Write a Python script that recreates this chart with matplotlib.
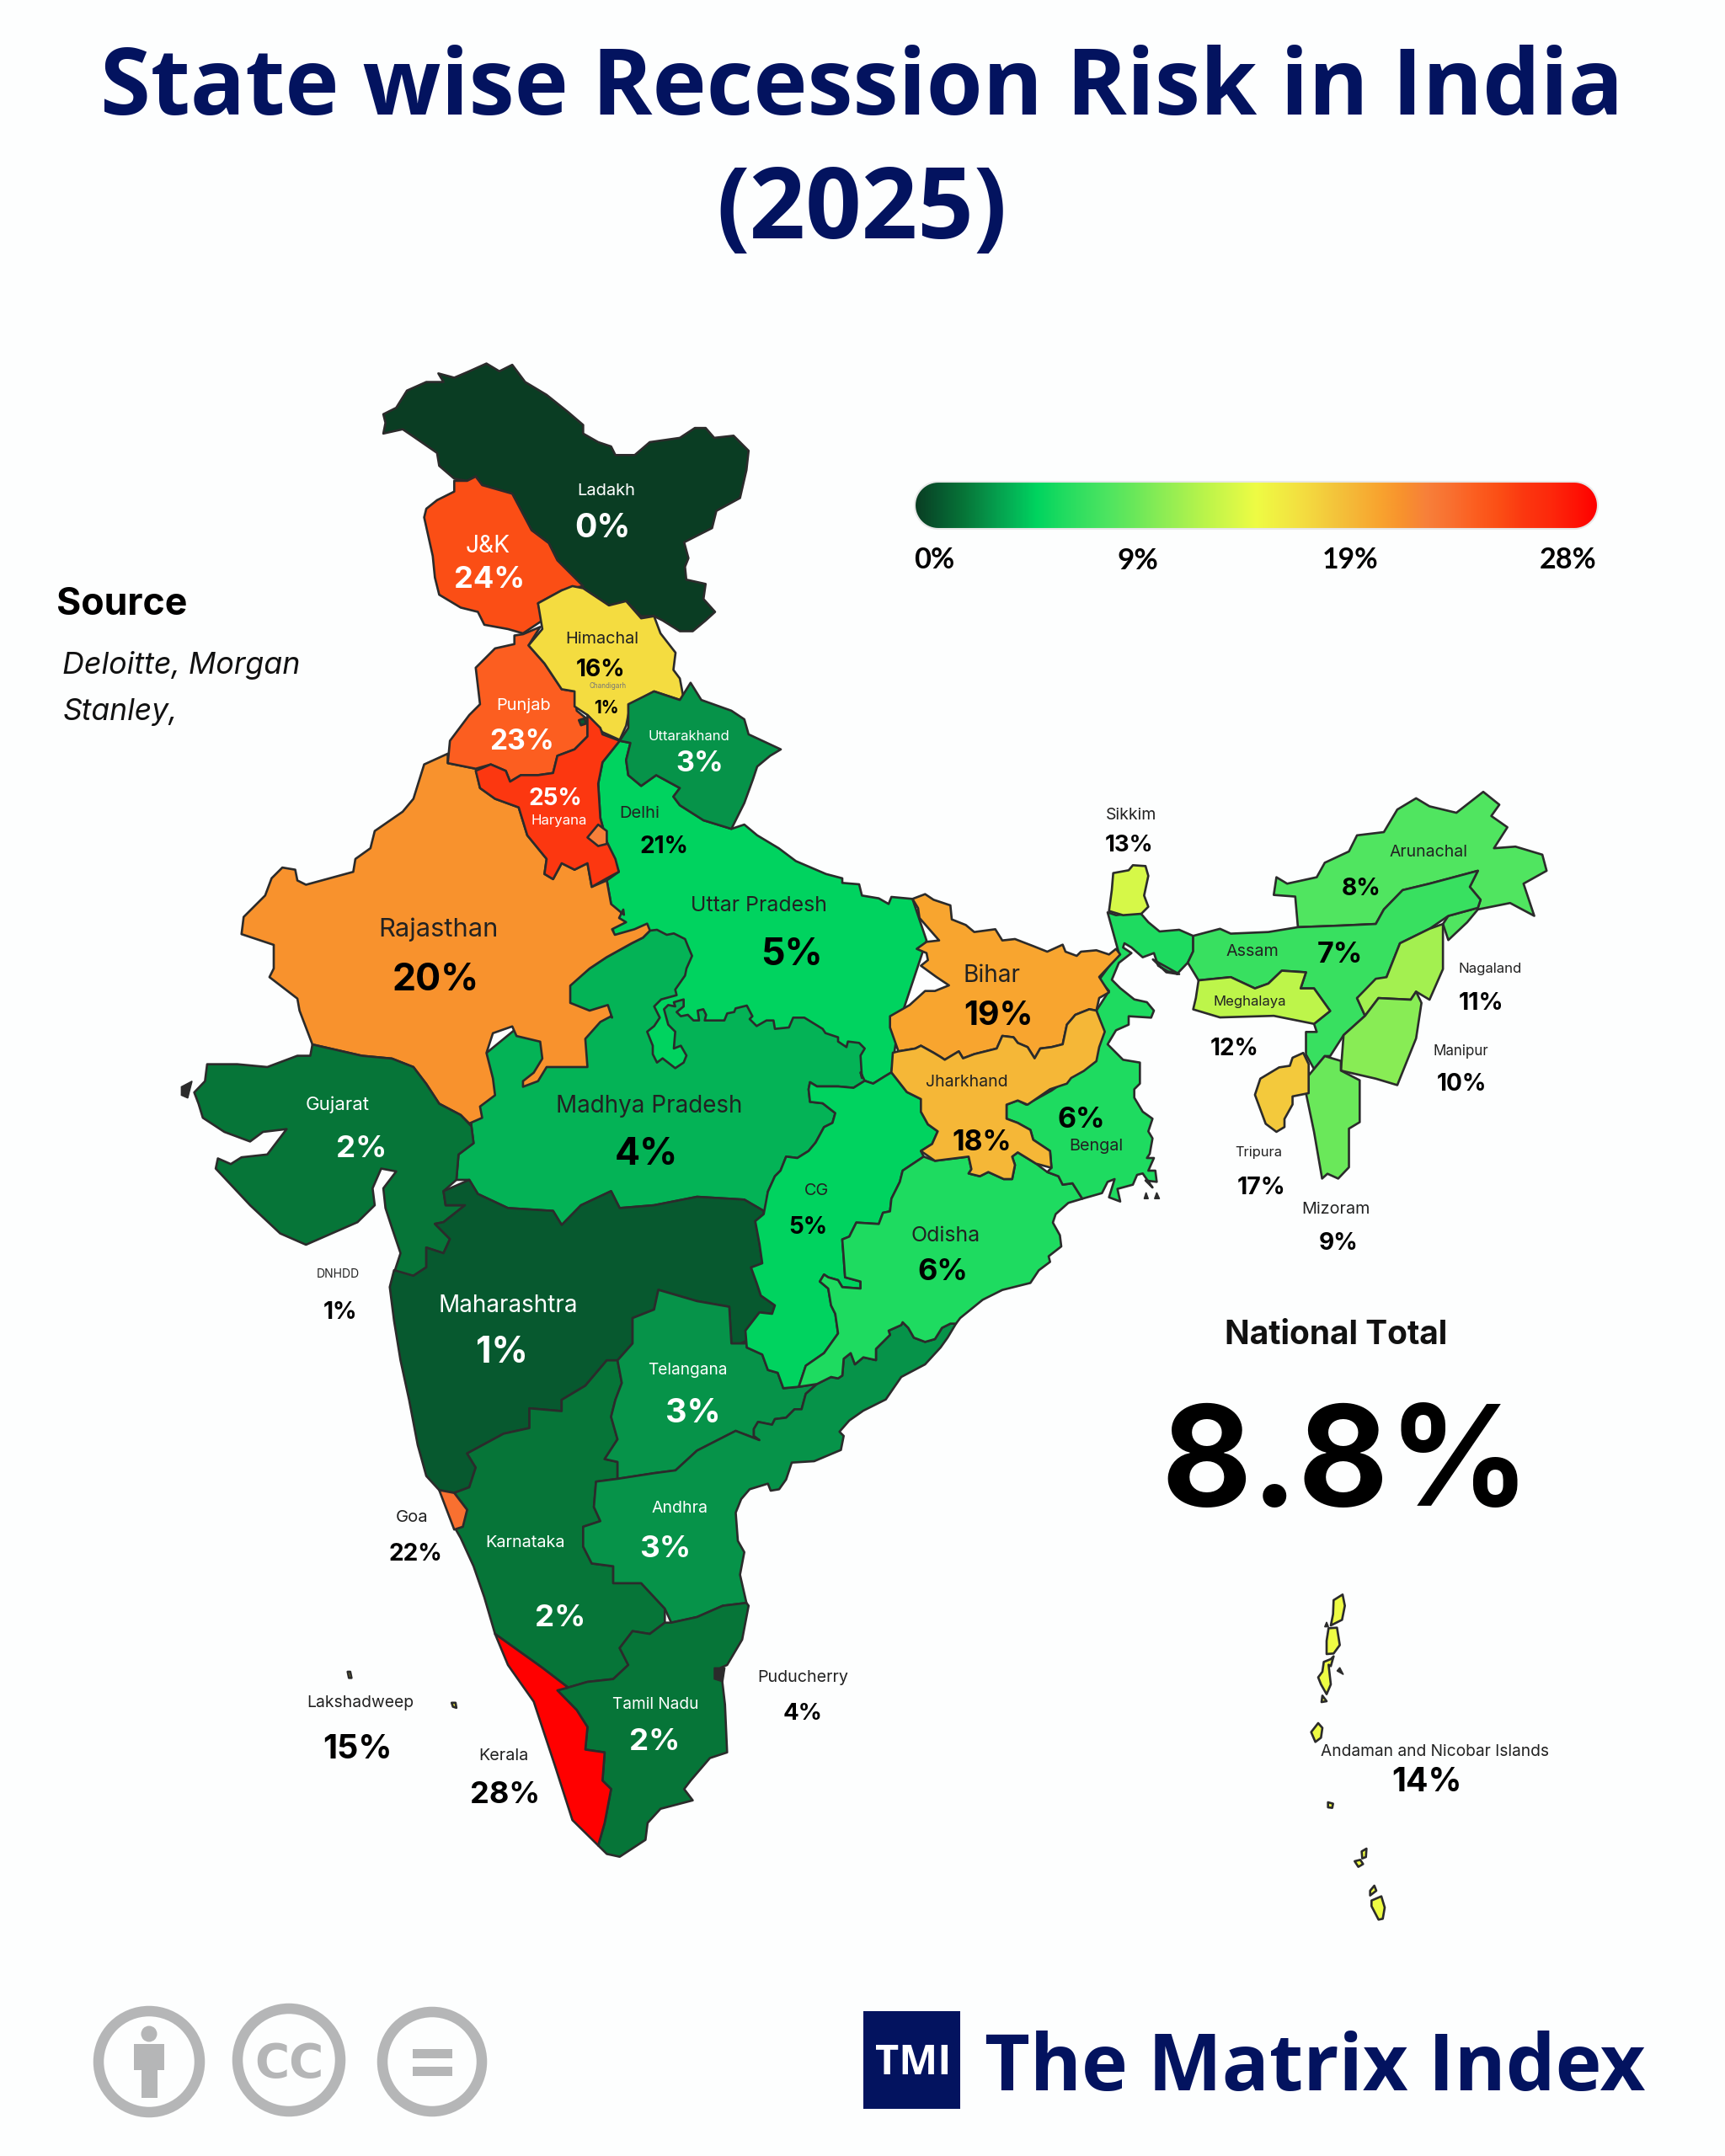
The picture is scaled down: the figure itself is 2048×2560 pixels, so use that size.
import numpy as np
import matplotlib
matplotlib.use("Agg")
import matplotlib.pyplot as plt
import matplotlib.patheffects as pe
from matplotlib.colors import LinearSegmentedColormap
from matplotlib.patches import Polygon, Circle, Rectangle
from matplotlib.font_manager import FontProperties, findfont
from matplotlib.textpath import TextPath

# ---------- data ----------
TITLE_LINES = ["State wise Recession Risk in India", "(2025)"]
SOURCE_LINES = ["Deloitte, Morgan", "Stanley,"]
NATIONAL_TOTAL = 8.8
LEGEND_TICKS = [0, 9, 19, 28]

STATES = ["Ladakh", "J&K", "Himachal", "Chandigarh", "Punjab", "Uttarakhand", "Haryana", "Delhi",
          "Uttar Pradesh", "Rajasthan", "Gujarat", "Madhya Pradesh", "CG", "DNHDD", "Maharashtra",
          "Telangana", "Goa", "Andhra", "Karnataka", "Tamil Nadu", "Puducherry", "Lakshadweep",
          "Kerala", "Sikkim", "Bihar", "Jharkhand", "Bengal", "Odisha", "Arunachal", "Assam",
          "Meghalaya", "Nagaland", "Manipur", "Tripura", "Mizoram", "Andaman and Nicobar Islands"]
RISK = [0, 24, 16, 1, 23, 3, 25, 21,
        5, 20, 2, 4, 5, 1, 1,
        3, 22, 3, 2, 2, 4, 15,
        28, 13, 19, 18, 6, 6, 8, 7,
        12, 11, 10, 17, 9, 14]
VALUE = dict(zip(STATES, RISK))

SCALE_VALUES = list(range(0, 29))
SCALE_COLORS = ["#0a3d23", "#07592f", "#067538", "#069449", "#04b356", "#00d45f", "#1edb60",
                "#38e060", "#50e560", "#6ae85a", "#88ec55", "#a3f050", "#bdf54a", "#d6f848",
                "#eefc44", "#f1ec42", "#f4dc40", "#f3c93c", "#f5b737", "#f8a52f", "#f8922d",
                "#f7803a", "#f97030", "#fc5e20", "#fb4e15", "#fc3710", "#fd2a0c", "#fe1606", "#ff0000"]

FRAMES = {"a": (200, 400, 1.96, 1.96), "b": (200, 1200, 1.96, 1.493), "c": (900, 900, 1.568, 2.613),
          "d": (880, 1260, 3, 3), "e": (1000, 950, 3, 3), "f": (700, 1080, 3, 3), "g": (1500, 1860, 3, 3)}

SHAPES = [
 ("Uttar Pradesh", [("a", [(1050,940),(1075,945),(1065,985),(1070,1020),(1100,1045),(1135,1020),(1190,1050),(1175,1070),(1190,1090),(1245,1125),(1310,1145),(1340,1135),(1370,1160),(1420,1190),(1460,1220),(1530,1250),(1568,1260)]),
   ("e", [(0,295),(60,300),(70,340),(130,350),(165,370),(175,345),(250,352),(300,500),(200,800),(175,970),(140,1005),(100,1010),(70,995)]),
   ("d", [(440,70),(470,80),(510,55),(535,40),(590,110),(500,200)]),
   ("f", [(500,620),(180,620),(100,200)]),
   ("a", [(1035,1385),(1030,1320),(1020,1265),(1048,1245),(1020,1175),(1005,1120),(1000,1040),(1010,990)])]),
 ("Madhya Pradesh", [("f", [(0,210),(60,170),(150,120),(190,100),(215,75),(240,72),(275,90),(300,85),(340,105),(350,130),(365,165),(345,210),(340,235),(305,285),(310,305),(255,320),(230,345),(250,385),(230,415),(205,435),(225,485),(225,515),(240,545),(260,530),(305,565),(335,545),(345,520),(325,485),(300,495),(305,435),(280,410),(265,355),(280,340),(305,345),(300,330),(335,320),(335,345),(310,365),(325,380),(350,375),(370,395),(390,395),(385,360),(405,355),(415,375),(410,395),(435,395),(480,395),(490,370),(515,365),(520,352),(560,342),(580,380),(570,390),(595,415),(630,395),(655,395),(660,425),(710,420),(725,385),(745,385),(765,385),(830,425),(840,440),(885,455),(885,470),(915,490),(920,470),(960,475),(980,495),(965,520),(970,600)]),
   ("d", [(425,40),(440,70),(400,95),(345,90),(270,90),(245,75),(240,100),(245,145),(290,150),(335,185),(325,220),(295,235),(265,290),(240,320),(200,345),(160,340),(140,390),(120,410),(95,465),(85,545)]),
   ("b", [(1385,355),(1340,335),(1230,330),(1130,345),(1050,350),(1030,320),(960,345),(915,380),(895,355),(790,350),(720,325),(700,300),(670,300),(675,255),(710,235),(705,205),(700,100)])]),
 ("Rajasthan", [("a", [(595,995),(650,970),(650,992),(715,1005),(725,1050),(760,1075),(815,1095),(835,1160),(880,1215),(875,1250),(895,1262),(915,1225),(945,1240),(975,1225),(985,1280),(1020,1265),(1030,1320),(1060,1345)]),
   ("f", [(120,0),(105,30),(130,45),(80,70),(90,90),(160,70),(205,50),(215,75),(190,100),(150,120),(60,170),(0,210)]),
   ("a", [(935,1510),(935,1550)]),
   ("f", [(0,360),(65,340),(80,385)]),
   ("b", [(1030,10),(1005,20),(970,50),(975,100),(880,100),(860,125),(825,135),(825,125),(850,110),(870,85),(865,55),(810,45),(800,28),(755,40),(740,75),(755,120),(760,150),(725,170),(730,190),(700,200),(680,185),(630,165),(600,130),(570,100),(520,85),(450,80),(335,60),(305,0)]),
   ("a", [(300,1540),(235,1490),(245,1470),(245,1415),(170,1390),(175,1350),(225,1300),(240,1260),(265,1235),(295,1240),(300,1265),(320,1275),(430,1245),(435,1215),(470,1190),(480,1150),(545,1105),(570,1075)])]),
 ("Gujarat", [("b", [(335,60),(450,80),(520,85),(570,100),(600,130),(630,165),(680,185),(705,205),(710,235),(675,255),(670,300),(640,320),(645,345),(690,345),(640,375),(620,378),(655,405),(640,430),(600,420),(600,455),(570,470),(525,465),(540,430),(520,385),(505,350),(500,315),(530,285),(495,280),(475,315),(480,345),(440,375),(320,415),(260,395),(190,345),(110,280),(115,262),(145,272),(170,260),(230,255),(275,210),(220,215),(190,232),(130,215),(80,190),(70,165),(60,145),(85,125),(90,95),(160,95),(230,100),(300,80),(330,80)])]),
 ("Maharashtra", [("b", [(640,320),(700,300),(720,325),(790,350),(895,355),(915,380),(960,345),(1030,320),(1050,350),(1130,345),(1230,330),(1340,335),(1385,355)]),
   ("d", [(80,545),(50,570),(65,650),(75,720),(35,735),(55,790),(70,835),(120,870),(110,900),(65,895),(15,960),(30,990),(0,1005)]),
   ("b", [(1340,590),(1310,590),(1305,525),(1230,515),(1140,495),(1130,530),(1080,545),(1080,590),(1045,620),(1020,620),(970,665),(915,690),(915,710),(840,705),(840,740),(780,750),(695,785),(715,810),(700,845),(665,855),(630,850),(600,825),(580,770),(560,690),(540,620),(525,550),(515,490),(525,460),(570,470),(600,455),(600,420),(640,430),(655,405),(620,378),(640,375),(690,345),(645,345)])]),
 ("Karnataka", [("b", [(695,785),(780,750),(840,740),(840,705),(915,710),(915,690),(970,665),(1020,620),(1045,620),(1055,660),(1040,690),(1030,720),(1045,760),(1015,795),(1045,800),(1045,830),(995,835),(990,880),(1005,905),(965,915),(965,950),(985,980),(1035,985),(1035,1015),(1100,1015),(1155,1060),(1155,1085),(1120,1105),(1080,1100),(1050,1130),(1070,1160),(1035,1185),(975,1190),(930,1200),(870,1165),(760,1105),(735,1040),(710,985),(680,935),(665,915),(695,885),(665,855),(700,845),(715,810)])]),
 ("Telangana", [("b", [(1140,495),(1230,515),(1305,525),(1310,590),(1345,590)]),
   ("d", [(20,1020),(75,1045),(95,1100),(130,1110),(150,1165),(205,1160),(270,1150),(230,1185),(215,1240),(190,1240),(160,1270),(120,1275),(110,1295),(60,1285),(45,1310),(45,1335),(65,1350),(20,1332),(0,1325)]),
   ("b", [(1320,745),(1230,780),(1180,815),(1130,820),(1045,830),(1045,800),(1015,795),(1045,760),(1030,720),(1040,690),(1055,660),(1045,620),(1080,590),(1080,545),(1130,530)])]),
 ("Andhra", [("d", [(270,1150),(320,1125),(345,1130),(360,1120),(365,1060),(390,1040),(405,1080),(435,1055),(480,1065),(480,1025),(530,975),(525,960),(570,940),(575,930),(595,950),(615,985),(655,1000),(690,990),(715,950),(745,935),(765,935),(735,985),(710,1020),(655,1080),(570,1125),(515,1205),(435,1245),(385,1280),(350,1320),(365,1335),(355,1385),(260,1425),(180,1430),(160,1490),(135,1525),(105,1530),(95,1505),(30,1525),(0,1560)]),
   ("b", [(1320,890),(1325,940),(1340,960),(1330,1000),(1345,1050),(1290,1055),(1230,1075),(1170,1085),(1155,1060),(1100,1015),(1035,1015),(1035,985),(985,980),(965,950),(965,915),(1005,905),(990,880),(995,835),(1045,830),(1130,820),(1180,815),(1230,780),(1320,745)]),
   ("d", [(65,1350),(45,1335),(45,1310),(60,1285),(110,1295),(120,1275),(160,1270),(190,1240),(215,1240),(230,1185)])]),
 ("Tamil Nadu", [("b", [(1345,1050),(1350,1055),(1335,1115),(1300,1160),(1285,1165),(1295,1230),(1300,1315),(1260,1325),(1215,1365),(1200,1380),(1220,1400),(1145,1415),(1115,1440),(1110,1470),(1050,1500),(1020,1495),(1000,1480),(1015,1440),(1030,1380),(1010,1365),(1015,1315),(970,1310),(975,1270),(950,1240),(905,1205),(930,1200),(975,1190),(1035,1185),(1070,1160),(1050,1130),(1080,1100),(1120,1105),(1155,1085),(1170,1085),(1230,1075),(1290,1055)])]),
 ("Kerala", [("b", [(760,1105),(870,1165),(930,1200),(905,1205),(950,1240),(975,1270),(970,1310),(1015,1315),(1010,1365),(1030,1380),(1015,1440),(1000,1480),(940,1435),(900,1340),(850,1225),(790,1160)])]),
 ("Goa", [("b", [(630,850),(665,855),(695,885),(685,915),(665,920),(650,890)])]),
 ("Lakshadweep", [("b", [(417,1172),(423,1172),(426,1183),(420,1183)])]),
 ("Lakshadweep", [("b", [(659,1227),(668,1227),(670,1236),(662,1234)])]),
 ("CG", [("d", [(400,95),(440,70),(470,80),(510,55),(535,40),(590,110),(640,135),(640,180),(665,225),(700,250),(680,295),(640,320),(650,340),(575,390),(565,430),(535,490),(530,535),(505,540),(490,580),(410,575),(385,625),(360,635),(365,700),(370,770),(425,785),(425,810),(360,805),(345,780),(310,770),(295,760),(280,785),(310,810),(320,870),(335,900),(345,970),(295,1040),(230,1085),(205,1160),(150,1165),(130,1110),(95,1100),(75,1045),(20,1020),(15,960),(65,895),(110,900),(120,870),(70,835),(55,790),(35,735),(75,720),(65,650),(50,570),(80,545),(95,465),(120,410),(140,390),(160,340),(200,345),(240,320),(265,290),(295,235),(325,220),(335,185),(290,150),(245,145),(240,100),(245,75),(270,90),(345,90)])]),
 ("Odisha", [("d", [(650,340),(690,355),(810,340),(820,385),(810,400),(850,410),(880,395),(935,420),(965,420),(975,370),(965,340),(985,325),(1050,365),(1090,395),(1130,410),(1145,440),(1180,435),(1215,490),(1165,505),(1120,545),(1110,575),(1135,620),(1140,660),(1095,695),(1100,715),(1060,745),(1030,790),(930,815),(860,850),(780,915),(765,935),(745,935),(715,950),(690,990),(655,1000),(615,985),(595,950),(575,930),(570,940),(525,960),(530,975),(480,1025),(480,1065),(435,1055),(405,1080),(390,1040),(365,1060),(360,1120),(345,1130),(320,1125),(270,1150),(205,1160),(230,1085),(295,1040),(345,970),(335,900),(320,870),(310,810),(280,785),(295,760),(310,770),(345,780),(360,805),(425,810),(425,785),(370,770),(365,700),(360,635),(385,625),(410,575),(490,580),(505,540),(530,535),(535,490),(565,430),(575,390)])]),
 ("Bengal", [("e", [(945,400),(975,410),(1060,400),(1090,435),(1130,468),(1200,462)]),
   ("c", [(810,552),(810,600),(800,635),(780,670),(760,665),(735,625)]),
   ("e", [(1200,620),(1160,610),(1125,590),(1110,545),(1070,560),(1030,525),(1005,510),(1000,525),(1030,545),(985,580),(960,640),(990,670),(1040,710),(1085,720),(1110,750),(1100,775),(1020,770),(1020,800),(975,820),(945,870),(1000,925),(1060,935),(1060,1010),(1040,1030),(1040,1060),(1070,1110),(1105,1135)]),
   ("d", [(1450,250),(1465,275),(1455,330),(1445,345),(1470,345),(1450,390),(1475,390),(1480,430),(1440,425),(1465,450),(1430,400),(1410,405),(1395,440),(1340,455),(1350,500),(1310,485),(1330,420),(1305,430),(1285,470),(1215,490),(1180,435),(1145,440),(1130,410),(1090,395),(1105,380),(1100,320),(1040,280),(1030,245),(985,220),(945,205),(945,155),(985,140),(1015,155),(1105,105),(1170,60),(1250,10)]),
   ("e", [(930,820),(905,750),(950,680),(915,640),(985,545)])]),
 ("Bihar", [("e", [(250,352),(295,335),(325,355),(385,375),(390,425),(440,445),(470,470),(545,460),(570,500),(615,495),(680,520),(730,540),(785,515),(795,540),(835,555),(850,540),(905,535),(950,550),(975,530),(990,550),(915,630),(950,685),(915,705),(905,750),(880,745),(830,765),(800,800),(785,870),(745,880),(705,885),(685,920),(660,880),(625,865),(610,845),(570,840),(550,885),(470,905),(430,920),(415,895),(365,925),(350,915),(325,900),(280,875),(260,885),(200,895),(170,810),(170,770),(240,730),(295,680),(330,680),(380,660),(335,630),(280,590),(305,570),(300,545),(265,530),(300,505),(345,500),(310,460),(275,420),(270,385)])]),
 ("Jharkhand", [("e", [(180,900),(200,895),(260,885),(280,875),(325,900),(350,915),(365,925),(415,895),(430,920),(470,905),(550,885),(570,840),(610,845),(625,865),(660,880),(685,920),(705,885),(745,880),(785,870),(800,800),(830,765),(880,745),(905,750),(935,825),(915,880),(905,930),(860,965),(815,990),(800,1010),(740,1030),(660,1085)]),
   ("d", [(985,140),(945,155),(945,205),(985,220),(1030,245),(1040,280),(1100,320),(1105,380),(1050,365),(985,325),(965,340),(975,370),(965,420),(935,420),(880,395),(850,410),(810,400),(820,385),(810,340),(690,355),(640,320),(680,295),(700,250),(665,225),(640,180),(640,135),(590,110),(535,40)]),
   ("e", [(175,970)])]),
 ("Ladakh", [("a", [(500,180),(530,165),(555,125),(600,105),(640,105),(628,85),(665,95),(700,80),(740,62),(770,80),(800,65),(830,105),(880,135),(930,175),(965,205),(965,225),(1000,245),(1030,255),(1040,275),(1085,275),(1120,245),(1190,235),(1225,212),(1250,212),(1270,235),(1315,230),(1350,265),(1345,310),(1330,375),(1275,405),(1265,445),(1200,478),(1210,515),(1202,535),(1205,565),(1250,575),(1245,610),(1272,640),(1250,660),(1220,685),(1190,685),(1150,660),(1130,650),(1100,650),(1065,615),(1025,625),(965,585),(905,520),(885,480),(845,450),(800,365),(730,345),(715,325),(695,335),(665,330),(630,300),(625,270),(570,232),(545,215),(500,225),(505,200)])]),
 ("J&K", [("a", [(665,335),(695,335),(715,325),(730,345),(800,365),(845,450),(885,480),(905,520),(965,580),(915,590),(860,620),(870,660),(825,690),(790,680),(735,670),(720,640),(680,630),(630,600),(620,560),(615,510),(595,420),(600,400),(625,380),(665,360)])]),
 ("Punjab", [("a", [(805,695),(825,692),(865,675),(838,718),(875,760),(915,820),(945,825),(950,870),(975,890),(975,930),(945,960),(905,975),(895,1015),(860,1020),(820,1020),(795,1035),(785,1010),(750,995),(715,1005),(650,992),(655,940),(700,880),(725,855),(715,770),(760,725),(805,715)])]),
 ("Himachal", [("a", [(860,620),(915,590),(940,580),(965,585),(1025,625),(1065,615),(1100,655),(1130,650),(1145,690),(1180,735),(1175,775),(1190,795),(1200,848),(1130,825),(1075,855),(1065,905),(1050,938),(1010,920),(975,880),(945,860),(945,825),(915,820),(875,760),(838,718),(870,680)])]),
 ("Haryana", [("a", [(975,880),(1005,910),(1010,925),(1050,940),(1010,990),(1000,1040),(1005,1120),(1020,1175),(1040,1215),(1048,1245),(1020,1260),(985,1280),(975,1225),(945,1240),(915,1225),(895,1262),(875,1250),(880,1215),(835,1160),(815,1095),(760,1075),(725,1050),(715,1010),(750,995),(785,1010),(795,1035),(820,1020),(860,1020),(895,1015),(905,975),(945,960),(975,930)])]),
 ("Delhi", [("a", [(975,1165),(1000,1135),(1020,1150),(1020,1180),(1000,1185)])]),
 ("Chandigarh", [("a", [(955,892),(968,888),(972,900),(960,904)])]),
 ("Uttarakhand", [("a", [(1070,855),(1130,825),(1190,845),(1215,805),(1240,845),(1310,870),(1340,890),(1350,925),(1425,960),(1400,975),(1370,1000),(1360,1030),(1340,1085),(1310,1145),(1245,1125),(1190,1090),(1175,1070),(1190,1050),(1135,1020),(1100,1045),(1070,1020),(1065,985),(1075,945),(1050,940),(1070,910)])]),
 ("Sikkim", [("e", [(965,260),(1020,250),(1035,232),(1080,235),(1090,270),(1075,340),(1090,380),(1065,405),(1000,410),(950,395),(960,320)])]),
 ("Arunachal", [("c", [(1005,525),(1000,430),(960,425),(965,370),(985,390),(1040,370),(1055,325),(1100,290),(1115,240),(1165,230),(1190,160),(1225,125),(1250,150),(1300,170),(1350,105),(1380,145),(1365,180),(1395,215),(1370,280),(1410,275),(1460,300),(1468,350),(1425,390),(1445,490),(1400,450),(1340,470),(1320,510),(1285,565),(1275,515),(1285,490),(1340,465),(1345,440),(1325,400),(1340,350),(1250,390),(1200,410),(1165,470),(1150,515),(1085,520)])]),
 ("Assam", [("c", [(810,552),(860,530),(880,545),(950,540),(1005,525),(1085,520),(1150,515),(1165,470),(1200,410),(1250,390),(1340,350),(1325,400),(1345,440),(1340,465),(1285,490),(1250,530),(1195,575),(1170,680),(1115,745),(1130,800),(1090,860),(1065,925),(1055,925),(1035,965),(1020,920),(1020,850),(1040,850),(1035,825),(1065,785),(1035,715),(1010,715),(1020,665),(975,660),(950,700),(925,715),(880,680),(820,690),(800,635),(810,600)])]),
 ("Meghalaya", [("c", [(820,690),(880,680),(925,715),(950,700),(975,660),(1020,665),(1010,715),(1035,715),(1065,785),(1035,825),(960,800),(860,805),(810,780),(815,745)])]),
 ("Nagaland", [("c", [(1275,515),(1275,655),(1250,750),(1225,725),(1215,750),(1155,745),(1130,800),(1115,745),(1150,685),(1170,680),(1195,575),(1250,530)])]),
 ("Manipur", [("c", [(1155,745),(1215,750),(1225,725),(1235,760),(1225,870),(1190,1015),(1150,995),(1085,970),(1090,860),(1130,800)])]),
 ("Mizoram", [("c", [(1035,965),(1055,925),(1085,940),(1085,970),(1120,1000),(1120,1130),(1100,1150),(1100,1270),(1080,1305),(1060,1290),(1050,1305),(1035,1160),(1020,1040),(1025,985)])]),
 ("Tripura", [("c", [(1015,915),(1025,950),(1025,1040),(995,1050),(995,1075),(980,1120),(980,1145),(965,1160),(945,1135),(925,1045),(935,995),(970,960),(990,955),(995,930)])]),
 ("Andaman and Nicobar Islands", [("g", [(250,120),(282,100),(290,140),(280,190),(240,210),(248,170)])]),
 ("Andaman and Nicobar Islands", [("g", [(232,220),(262,218),(272,280),(250,310),(225,312),(225,265)])]),
 ("Andaman and Nicobar Islands", [("g", [(215,340),(240,330),(250,320),(240,355),(232,350),(240,420),(225,455),(205,420),(195,395),(210,375)])]),
 ("Andaman and Nicobar Islands", [("g", [(210,460),(225,480),(207,483)])]),
 ("Andaman and Nicobar Islands", [("g", [(195,558),(210,575),(205,610),(185,625),(170,590)])]),
 ("Andaman and Nicobar Islands", [("g", [(230,840),(248,845),(245,860),(230,858)])]),
 ("Andaman and Nicobar Islands", [("g", [(325,1050),(345,1045),(355,1060),(338,1070)])]),
 ("Andaman and Nicobar Islands", [("g", [(350,1015),(367,1005),(365,1035),(352,1040)])]),
 ("Andaman and Nicobar Islands", [("g", [(380,1155),(395,1137),(402,1155),(380,1172)])]),
 ("Andaman and Nicobar Islands", [("g", [(385,1190),(420,1175),(432,1215),(425,1255),(410,1258),(385,1210)])]),
]
ROCKS = [
 [("g", [(218,215),(225,198),(232,215)])], [("g", [(262,372),(272,360),(285,385)])],
 [("b", [(30,135),(55,125),(45,155),(30,150)])],
 [("d", [(1435,490),(1442,468),(1450,490)])], [("d", [(1472,490),(1480,468),(1490,490)])],
 [("b", [(1270,1165),(1295,1165),(1290,1190),(1270,1185)])],
]

# label placement: state -> (x, y, width) of the ink in figure pixels
NAME_POS = {"Ladakh":(720,581,66),"J&K":(580,646,51),"Himachal":(715,757,84),"Chandigarh":(721,815,43),
 "Punjab":(622,838,62),"Uttarakhand":(818,873,94),"Haryana":(664,975,64),"Delhi":(760,964,45),
 "Uttar Pradesh":(901,1073,158),"Rajasthan":(520,1104,137),"Gujarat":(401,1312,74),"Madhya Pradesh":(771,1314,217),
 "CG":(970,1412,27),"DNHDD":(401,1512,49),"Maharashtra":(603,1548,161),"Telangana":(816,1627,92),
 "Goa":(489,1800,36),"Andhra":(806,1789,65),"Karnataka":(623,1830,91),"Tamil Nadu":(778,2022,100),
 "Puducherry":(954,1992,106),"Lakshadweep":(428,2022,124),"Kerala":(598,2083,56),"Sikkim":(1343,966,58),
 "Bihar":(1178,1156,65),"Jharkhand":(1147,1283,95),"Bengal":(1301,1361,61),"Odisha":(1122,1465,79),
 "Arunachal":(1695,1010,91),"Assam":(1487,1128,61),"Meghalaya":(1484,1190,84),"Nagaland":(1769,1151,73),
 "Manipur":(1735,1248,64),"Tripura":(1494,1368,54),"Mizoram":(1586,1434,78),"Andaman and Nicobar Islands":(1703,2078,270)}
VALUE_POS = {"Ladakh":(715,624,61),"J&K":(580,685,79),"Himachal":(713,793,55),"Chandigarh":(720,840,27),
 "Punjab":(619,878,72),"Uttarakhand":(830,904,52),"Haryana":(659,946,60),"Delhi":(788,1003,54),
 "Uttar Pradesh":(939,1130,67),"Rajasthan":(517,1160,97),"Gujarat":(428,1361,55),"Madhya Pradesh":(766,1367,69),
 "CG":(959,1455,42),"DNHDD":(404,1556,37),"Maharashtra":(595,1602,56),"Telangana":(822,1675,60),
 "Goa":(493,1843,60),"Andhra":(789,1836,56),"Karnataka":(664,1918,55),"Tamil Nadu":(776,2065,55),
 "Puducherry":(952,2032,43),"Lakshadweep":(423,2074,77),"Kerala":(599,2128,78),"Sikkim":(1340,1001,54),
 "Bihar":(1185,1203,77),"Jharkhand":(1165,1354,66),"Bengal":(1283,1327,52),"Odisha":(1119,1507,55),
 "Arunachal":(1616,1053,43),"Assam":(1590,1131,50),"Meghalaya":(1465,1243,54),"Nagaland":(1758,1189,50),
 "Manipur":(1735,1285,56),"Tripura":(1497,1408,54),"Mizoram":(1589,1474,43),"Andaman and Nicobar Islands":(1693,2113,78)}
WHITE_TEXT = {"Ladakh","J&K","Punjab","Uttarakhand","Haryana","Gujarat","Maharashtra","Telangana","Andhra","Karnataka","Tamil Nadu"}

# ---------- helpers ----------
W, H, DPI = 2048, 2560, 100
fig = plt.figure(figsize=(W / DPI, H / DPI), dpi=DPI, facecolor="#fdfefe")
ax = fig.add_axes([0, 0, 1, 1])
ax.set_axis_off()
NAVY = "#03135f"
EDGE = "#2b2b2b"


def fit(s, x, y, width, family="Inter", weight="normal", style="normal", color="black", ha="center", stroke=0, z=10):
    """Place a text so that its ink has the given width and is centred vertically on y."""
    fp = FontProperties(family=family, weight=weight, style=style)
    ext = TextPath((0, 0), s, size=100, prop=fp).get_extents()
    scale = width / ext.width                      # px per TextPath unit
    fs = scale * 100 * 72 / DPI
    base = y + (ext.ymin + ext.ymax) / 2 * scale
    left = (x if ha == "left" else x - width / 2) - ext.xmin * scale
    t = ax.text(left, base, s, fontproperties=fp, fontsize=fs, color=color, ha="left", va="baseline", zorder=z)
    if stroke:
        t.set_path_effects([pe.withStroke(linewidth=stroke, foreground=color)])
    return t


def to_px(pieces):
    out = []
    for frame, pts in pieces:
        x0, y0, sx, sy = FRAMES[frame]
        out.extend((x0 + p / sx, y0 + q / sy) for p, q in pts)
    return np.array(out)


# ---------- map ----------
cmap = LinearSegmentedColormap.from_list("risk", [(v / 28, c) for v, c in zip(SCALE_VALUES, SCALE_COLORS)], N=1024)
for z, (state, pieces) in enumerate(SHAPES):
    ax.add_patch(Polygon(to_px(pieces), closed=True, facecolor=cmap(VALUE[state] / 28), edgecolor=EDGE,
                         linewidth=1.9, joinstyle="round", zorder=2 + z * 0.01))
for pieces in ROCKS:
    ax.add_patch(Polygon(to_px(pieces), closed=True, facecolor=EDGE, edgecolor=EDGE, linewidth=1, zorder=3))

for state in STATES:
    is_white = state in WHITE_TEXT
    nx, ny, nw = NAME_POS[state]
    vx, vy, vw = VALUE_POS[state]
    name_color = "white" if is_white else ("#777777" if state == "Chandigarh" else "#222222")
    fit(state, nx, ny, nw, color=name_color)
    fit(f"{VALUE[state]}%", vx, vy, vw, weight="bold", color="white" if is_white else "black")

# ---------- legend ----------
theta = np.radians(np.arange(-90, 91, 6))
capsule = np.vstack([np.c_[1869 + 28 * np.cos(theta), 600 + 28 * np.sin(theta)],
                     np.c_[1114 - 28 * np.cos(theta[::-1]), 600 + 28 * np.sin(theta[::-1])]])
bar = Polygon(capsule, closed=True, facecolor="none", edgecolor="#e8e8e8", linewidth=1.5, zorder=6)
ax.add_patch(bar)
im = ax.imshow(np.linspace(0, 28, 810)[None, :], cmap=cmap, vmin=0, vmax=28, extent=(1086, 1897, 628, 572),
               aspect="auto", zorder=5)
im.set_clip_path(bar)
TICK_POS = {0: (1109, 46), 9: (1351, 46), 19: (1603, 63), 28: (1862, 65)}
for t in LEGEND_TICKS:
    fit(f"{t}%", TICK_POS[t][0], 663, TICK_POS[t][1], family="Lato", weight="bold")

# ---------- titles and notes ----------
HEAD = "Open Sans"
head_stroke = 0 if "bold" in findfont(FontProperties(family=HEAD, weight="bold")).lower() else 3.2
fit(TITLE_LINES[0], 1022, 95, 1796, family=HEAD, weight="bold", color=NAVY, stroke=head_stroke)
fit(TITLE_LINES[1], 1023, 250, 336, family=HEAD, weight="bold", color=NAVY, stroke=head_stroke)
fit("Source", 69, 714, 152, weight="bold", ha="left")
fit(SOURCE_LINES[0], 76, 790, 279, style="italic", ha="left", color="#111111")
fit(SOURCE_LINES[1], 76, 846, 131, style="italic", ha="left", color="#111111")
fit("National Total", 1587, 1581, 260, weight="bold", color="#111111")
fit(f"{NATIONAL_TOTAL}%", 1594, 1728, 416, weight="bold")

# ---------- footer ----------
GREY = "#b5b6b7"
for cx, cy, r in [(177, 2448, 60), (343, 2446, 61), (513, 2448, 59)]:
    ax.add_patch(Circle((cx, cy), r, facecolor="none", edgecolor=GREY, linewidth=9, zorder=4))
ax.add_patch(Circle((177, 2415), 9.5, facecolor=GREY, edgecolor="none", zorder=4))
ax.add_patch(Rectangle((159, 2427), 36, 31, facecolor=GREY, edgecolor="none", zorder=4))
ax.add_patch(Rectangle((168, 2458), 19, 33, facecolor=GREY, edgecolor="none", zorder=4))
fit("CC", 343, 2446, 76, family="DejaVu Sans", weight="bold", color=GREY)
ax.add_patch(Rectangle((490, 2433), 47, 11, facecolor=GREY, edgecolor="none", zorder=4))
ax.add_patch(Rectangle((490, 2454), 47, 11, facecolor=GREY, edgecolor="none", zorder=4))
ax.add_patch(Rectangle((1025, 2388), 115, 116, facecolor=NAVY, edgecolor="none", zorder=4))
fit("TMI", 1082, 2446, 85, family=HEAD, weight="bold", color="white", stroke=head_stroke * 0.35)
fit("The Matrix Index", 1171, 2447, 782, family=HEAD, weight="bold", color=NAVY, ha="left", stroke=head_stroke * 0.8)

ax.set_xlim(0, W)
ax.set_ylim(H, 0)
fig.savefig("out.png", dpi=DPI, facecolor=fig.get_facecolor())
